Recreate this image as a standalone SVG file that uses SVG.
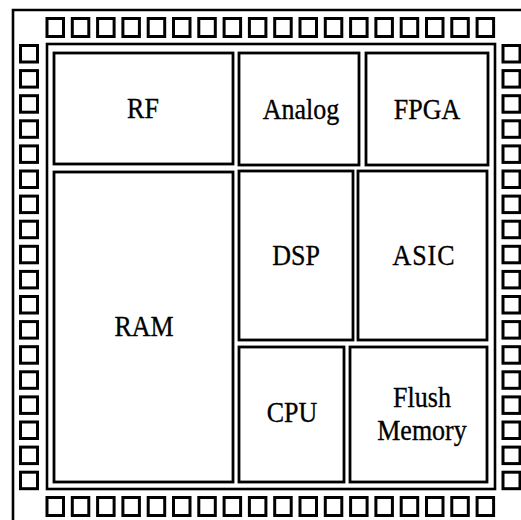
<svg xmlns="http://www.w3.org/2000/svg" width="521" height="520" viewBox="0 0 521 520">
<style>
.blk{fill:#fff;stroke:#000;stroke-width:2.8}
.frm{fill:none;stroke:#000;stroke-width:2.6}
.pad{fill:#fff;stroke:#000;stroke-width:3}
.lbl{font-family:"Liberation Serif","Times New Roman",serif;font-size:26px;fill:#000;text-anchor:middle;stroke:#000;stroke-width:0.3}
</style>
<defs>
<rect id="ph" width="16.5" height="18" class="pad"/>
<rect id="pv" width="17" height="16.5" class="pad"/>
</defs>
<rect width="521" height="520" fill="#fff"/>
<path d="M13,520 V10 H521" class="frm"/>
<g id="pads-top">
<use href="#ph" x="47" y="18.5"/><use href="#ph" x="72.3" y="18.5"/><use href="#ph" x="97.6" y="18.5"/><use href="#ph" x="122.9" y="18.5"/><use href="#ph" x="148.2" y="18.5"/><use href="#ph" x="173.5" y="18.5"/><use href="#ph" x="198.8" y="18.5"/><use href="#ph" x="224.1" y="18.5"/><use href="#ph" x="249.4" y="18.5"/><use href="#ph" x="274.7" y="18.5"/><use href="#ph" x="300" y="18.5"/><use href="#ph" x="325.3" y="18.5"/><use href="#ph" x="350.6" y="18.5"/><use href="#ph" x="375.9" y="18.5"/><use href="#ph" x="401.2" y="18.5"/><use href="#ph" x="426.5" y="18.5"/><use href="#ph" x="451.8" y="18.5"/><use href="#ph" x="477.1" y="18.5"/>
</g>
<g id="pads-bottom">
<use href="#ph" x="47" y="497.5"/><use href="#ph" x="72.3" y="497.5"/><use href="#ph" x="97.6" y="497.5"/><use href="#ph" x="122.9" y="497.5"/><use href="#ph" x="148.2" y="497.5"/><use href="#ph" x="173.5" y="497.5"/><use href="#ph" x="198.8" y="497.5"/><use href="#ph" x="224.1" y="497.5"/><use href="#ph" x="249.4" y="497.5"/><use href="#ph" x="274.7" y="497.5"/><use href="#ph" x="300" y="497.5"/><use href="#ph" x="325.3" y="497.5"/><use href="#ph" x="350.6" y="497.5"/><use href="#ph" x="375.9" y="497.5"/><use href="#ph" x="401.2" y="497.5"/><use href="#ph" x="426.5" y="497.5"/><use href="#ph" x="451.8" y="497.5"/><use href="#ph" x="477.1" y="497.5"/>
</g>
<g id="pads-left">
<use href="#pv" x="20.5" y="45.5"/><use href="#pv" x="20.5" y="70.6"/><use href="#pv" x="20.5" y="95.7"/><use href="#pv" x="20.5" y="120.8"/><use href="#pv" x="20.5" y="145.9"/><use href="#pv" x="20.5" y="171"/><use href="#pv" x="20.5" y="196.1"/><use href="#pv" x="20.5" y="221.2"/><use href="#pv" x="20.5" y="246.3"/><use href="#pv" x="20.5" y="271.4"/><use href="#pv" x="20.5" y="296.5"/><use href="#pv" x="20.5" y="321.6"/><use href="#pv" x="20.5" y="346.7"/><use href="#pv" x="20.5" y="371.8"/><use href="#pv" x="20.5" y="396.9"/><use href="#pv" x="20.5" y="422"/><use href="#pv" x="20.5" y="447.1"/><use href="#pv" x="20.5" y="472.2"/>
</g>
<g id="pads-right">
<use href="#pv" x="503" y="45.5"/><use href="#pv" x="503" y="70.6"/><use href="#pv" x="503" y="95.7"/><use href="#pv" x="503" y="120.8"/><use href="#pv" x="503" y="145.9"/><use href="#pv" x="503" y="171"/><use href="#pv" x="503" y="196.1"/><use href="#pv" x="503" y="221.2"/><use href="#pv" x="503" y="246.3"/><use href="#pv" x="503" y="271.4"/><use href="#pv" x="503" y="296.5"/><use href="#pv" x="503" y="321.6"/><use href="#pv" x="503" y="346.7"/><use href="#pv" x="503" y="371.8"/><use href="#pv" x="503" y="396.9"/><use href="#pv" x="503" y="422"/><use href="#pv" x="503" y="447.1"/><use href="#pv" x="503" y="472.2"/>
</g>
<rect id="core" x="47" y="44" width="448" height="445" class="frm"/>
<g id="rf"><rect x="54" y="53" width="179" height="111" class="blk"/><text transform="translate(143,118) scale(1,1.12)" class="lbl">RF</text></g>
<g id="analog"><rect x="239" y="53" width="120" height="112" class="blk"/><text transform="translate(301,119) scale(1,1.12)" class="lbl">Analog</text></g>
<g id="fpga"><rect x="366" y="53" width="122" height="112" class="blk"/><text transform="translate(427,119) scale(1,1.12)" class="lbl">FPGA</text></g>
<g id="ram"><rect x="54" y="172" width="179" height="310" class="blk"/><text transform="translate(144,336) scale(1,1.12)" class="lbl">RAM</text></g>
<g id="dsp"><rect x="239" y="171" width="114" height="169" class="blk"/><text transform="translate(296,265) scale(1,1.12)" class="lbl">DSP</text></g>
<g id="asic"><rect x="358" y="171" width="129" height="169" class="blk"/><text transform="translate(424,265) scale(1,1.12)" class="lbl" letter-spacing="1">ASIC</text></g>
<g id="cpu"><rect x="239" y="347" width="105" height="135" class="blk"/><text transform="translate(292,422) scale(1,1.12)" class="lbl">CPU</text></g>
<g id="flush"><rect x="350" y="347" width="137" height="135" class="blk"/><text transform="translate(422,407) scale(1,1.12)" class="lbl">Flush</text><text transform="translate(422,440) scale(1,1.12)" class="lbl">Memory</text></g>
</svg>
